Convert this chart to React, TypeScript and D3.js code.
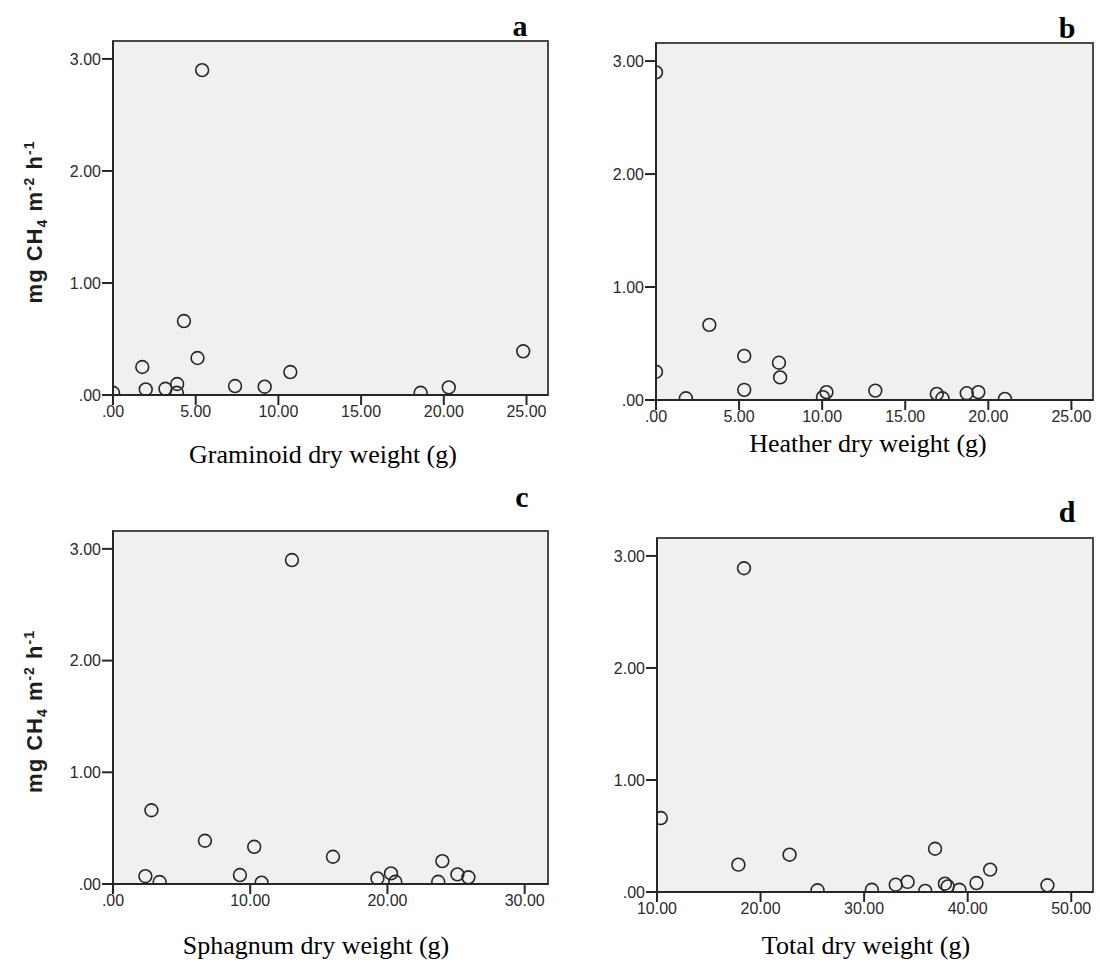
import React from "react";
import * as d3 from "d3";

// ---- Data ----
const Y_TICKS = [0, 1, 2, 3];

const GRAMINOID_TICKS = [0, 5, 10, 15, 20, 25];
const GRAMINOID_X = [0.0, 1.77, 1.98, 3.17, 3.88, 3.86, 4.29, 5.11, 5.39, 7.38, 9.17, 10.72, 18.6, 20.3, 24.8];
const GRAMINOID_Y = [0.02, 0.25, 0.05, 0.056, 0.098, 0.02, 0.66, 0.33, 2.9, 0.08, 0.074, 0.205, 0.02, 0.068, 0.39];

const HEATHER_TICKS = [0, 5, 10, 15, 20, 25];
const HEATHER_X = [0.0, 0.0, 1.8, 3.21, 5.31, 5.31, 7.4, 7.47, 10.05, 10.26, 13.2, 16.9, 17.24, 18.7, 19.4, 21.0];
const HEATHER_Y = [2.9, 0.25, 0.015, 0.665, 0.39, 0.09, 0.33, 0.2, 0.025, 0.07, 0.083, 0.054, 0.015, 0.06, 0.07, 0.01];

const SPHAGNUM_TICKS = [0, 10, 20, 30];
const SPHAGNUM_X = [13.04, 2.8, 6.7, 10.29, 16.03, 2.36, 3.4, 9.25, 10.83, 19.27, 20.26, 20.57, 23.7, 24.0, 25.1, 25.9];
const SPHAGNUM_Y = [2.9, 0.66, 0.387, 0.333, 0.244, 0.07, 0.018, 0.08, 0.012, 0.05, 0.095, 0.02, 0.02, 0.205, 0.086, 0.06];

const TOTAL_TICKS = [10, 20, 30, 40, 50];
const TOTAL_X = [18.4, 10.37, 17.86, 22.8, 25.5, 30.75, 33.05, 34.2, 35.9, 36.85, 37.8, 38.07, 39.2, 40.85, 42.17, 47.7];
const TOTAL_Y = [2.89, 0.66, 0.244, 0.333, 0.015, 0.02, 0.065, 0.09, 0.01, 0.386, 0.074, 0.05, 0.02, 0.08, 0.2, 0.06];

const PANEL_LETTERS = ["a", "b", "c", "d"];
const X_TITLES = ["Graminoid dry weight (g)", "Heather dry weight (g)", "Sphagnum dry weight (g)", "Total dry weight (g)"];

// ---- Layout ----
type Panel = {
  id: string;
  letter: string;
  title: string;
  xs: number[];
  ys: number[];
  xTicks: number[];
  xDomain: [number, number];
  left: number; right: number; top: number; bottom: number;
  letterX: number; letterY: number;
  titleX: number; titleY: number;
  yTitle: boolean;
};

const panels: Panel[] = [
  { id: "a", letter: PANEL_LETTERS[0], title: X_TITLES[0], xs: GRAMINOID_X, ys: GRAMINOID_Y, xTicks: GRAMINOID_TICKS, xDomain: [0, 26.3],
    left: 113, right: 548, top: 41, bottom: 395, letterX: 520, letterY: 36, titleX: 323, titleY: 463, yTitle: true },
  { id: "b", letter: PANEL_LETTERS[1], title: X_TITLES[1], xs: HEATHER_X, ys: HEATHER_Y, xTicks: HEATHER_TICKS, xDomain: [0, 26.3],
    left: 656, right: 1093, top: 43, bottom: 400, letterX: 1067, letterY: 38, titleX: 868, titleY: 452, yTitle: false },
  { id: "c", letter: PANEL_LETTERS[2], title: X_TITLES[2], xs: SPHAGNUM_X, ys: SPHAGNUM_Y, xTicks: SPHAGNUM_TICKS, xDomain: [0, 31.7],
    left: 113, right: 548, top: 531, bottom: 884, letterX: 522, letterY: 507, titleX: 316, titleY: 954, yTitle: true },
  { id: "d", letter: PANEL_LETTERS[3], title: X_TITLES[3], xs: TOTAL_X, ys: TOTAL_Y, xTicks: TOTAL_TICKS, xDomain: [10, 52.1],
    left: 657, right: 1093, top: 538, bottom: 892, letterX: 1067, letterY: 522, titleX: 866, titleY: 954, yTitle: false },
];

const fmt = (d: number) => (d === 0 ? ".00" : d.toFixed(2));
const SANS = "'Liberation Sans', Arial, sans-serif";
const SERIF = "'Liberation Serif', 'Times New Roman', serif";

function PanelView({ p }: { p: Panel }) {
  const x = d3.scaleLinear().domain(p.xDomain).range([p.left, p.right]);
  const y = d3.scaleLinear().domain([0, 3.16]).range([p.bottom, p.top]);
  const clipId = `clip-${p.id}`;
  const axisColor = "#262626";
  return (
    <g>
      <defs>
        <clipPath id={clipId}>
          <rect x={p.left} y={p.top} width={p.right - p.left} height={p.bottom - p.top} />
        </clipPath>
      </defs>
      <rect x={p.left} y={p.top} width={p.right - p.left} height={p.bottom - p.top}
        fill="#f0f0f0" stroke="#4a4a4a" strokeWidth={2} />
      <line x1={p.left} x2={p.left} y1={p.top} y2={p.bottom} stroke={axisColor} strokeWidth={2} />
      <line x1={p.left} x2={p.right} y1={p.bottom} y2={p.bottom} stroke={axisColor} strokeWidth={2} />
      {Y_TICKS.map((t) => (
        <g key={`y${t}`}>
          <line x1={p.left - 11} x2={p.left} y1={y(t)} y2={y(t)} stroke={axisColor} strokeWidth={2} />
          <text x={p.left - 12} y={y(t)} dy="0.36em" textAnchor="end" fontFamily={SANS} fontSize={16} fill="#2a2a2a">{fmt(t)}</text>
        </g>
      ))}
      {p.xTicks.map((t) => (
        <g key={`x${t}`}>
          <line x1={x(t)} x2={x(t)} y1={p.bottom} y2={p.bottom + 10} stroke={axisColor} strokeWidth={2} />
          <text x={x(t)} y={p.bottom + 22} textAnchor="middle" fontFamily={SANS} fontSize={16} fill="#2a2a2a">{fmt(t)}</text>
        </g>
      ))}
      <g clipPath={`url(#${clipId})`}>
        {p.xs.map((v, i) => (
          <circle key={i} cx={x(v)} cy={y(p.ys[i])} r={6.4} fill="none" stroke="#262626" strokeWidth={1.6} />
        ))}
      </g>
      <text x={p.letterX} y={p.letterY} textAnchor="middle" fontFamily={SERIF} fontWeight="bold" fontSize={30} fill="#000">{p.letter}</text>
      <text x={p.titleX} y={p.titleY} textAnchor="middle" fontFamily={SERIF} fontSize={26} fill="#000">{p.title}</text>
      {p.yTitle && (
        <text transform={`translate(${p.left - 71},${(p.top + p.bottom) / 2 + 4}) rotate(-90)`} textAnchor="middle"
          fontFamily={SANS} fontWeight="bold" fontSize={22} letterSpacing={1} fill="#1e1e1e">
          mg CH<tspan fontSize={14} dy={5}>4</tspan><tspan dy={-5}> m</tspan><tspan fontSize={14} dy={-8}>-2</tspan><tspan dy={8}> h</tspan><tspan fontSize={14} dy={-8}>-1</tspan>
        </text>
      )}
    </g>
  );
}

export default function App() {
  return (
    <svg width={1100} height={971} style={{ position: "absolute", left: 0, top: 0, background: "#fff" }}>
      <rect width={1100} height={971} fill="#fff" />
      {panels.map((p) => <PanelView key={p.id} p={p} />)}
    </svg>
  );
}
